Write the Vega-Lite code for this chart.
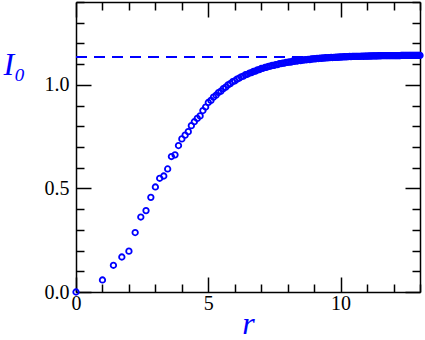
{
 "$schema": "https://vega.github.io/schema/vega-lite/v6.json",
 "width": 344, "height": 290,
 "autosize": {"type": "none"},
 "padding": {"left": 76, "top": 2, "right": 5, "bottom": 48},
 "background": "white",
 "config": {
  "view": {"stroke": null},
  "axis": {"domainColor": "black", "domainWidth": 1.5, "tickColor": "black", "tickWidth": 1.5, "labelFont": "Liberation Serif", "labelFontSize": 20, "labelColor": "black", "titleFont": "Liberation Serif", "titleFontStyle": "italic", "titleFontWeight": "normal", "titleColor": "#0000ff", "titleFontSize": 32, "grid": false, "labelOverlap": false, "labelFlush": false}
 },
 "datasets": {
  "limit": [{"I0_inf": 1.135}],
  "profile": [
{"r":0,"I0":0},{"r":1,"I0":0.058},{"r":1.414,"I0":0.129},{"r":1.732,"I0":0.169},{"r":2,"I0":0.197},{"r":2.236,"I0":0.287},{"r":2.449,"I0":0.362},{"r":2.646,"I0":0.393},{"r":2.828,"I0":0.457},{"r":3,"I0":0.507},
{"r":3.162,"I0":0.549},{"r":3.317,"I0":0.56},{"r":3.464,"I0":0.594},{"r":3.606,"I0":0.654},{"r":3.742,"I0":0.662},{"r":3.873,"I0":0.707},{"r":4,"I0":0.739},{"r":4.123,"I0":0.757},{"r":4.243,"I0":0.774},{"r":4.359,"I0":0.803},
{"r":4.472,"I0":0.822},{"r":4.583,"I0":0.838},{"r":4.69,"I0":0.85},{"r":4.796,"I0":0.876},{"r":4.899,"I0":0.893},{"r":5,"I0":0.915},{"r":5.099,"I0":0.925},{"r":5.196,"I0":0.941},{"r":5.292,"I0":0.95},{"r":5.385,"I0":0.963},
{"r":5.477,"I0":0.97},{"r":5.568,"I0":0.982},{"r":5.657,"I0":0.989},{"r":5.745,"I0":1.0},{"r":5.831,"I0":1.006},{"r":5.916,"I0":1.015},{"r":6,"I0":1.019},{"r":6.083,"I0":1.028},{"r":6.164,"I0":1.032},{"r":6.245,"I0":1.039},
{"r":6.325,"I0":1.042},{"r":6.403,"I0":1.049},{"r":6.481,"I0":1.051},{"r":6.557,"I0":1.057},{"r":6.633,"I0":1.059},{"r":6.708,"I0":1.065},{"r":6.782,"I0":1.066},{"r":6.856,"I0":1.072},{"r":6.928,"I0":1.073},{"r":7,"I0":1.079},
{"r":7.071,"I0":1.08},{"r":7.141,"I0":1.084},{"r":7.211,"I0":1.085},{"r":7.28,"I0":1.089},{"r":7.348,"I0":1.09},{"r":7.416,"I0":1.094},{"r":7.483,"I0":1.094},{"r":7.55,"I0":1.098},{"r":7.616,"I0":1.098},{"r":7.681,"I0":1.102},
{"r":7.746,"I0":1.102},{"r":7.81,"I0":1.105},{"r":7.874,"I0":1.105},{"r":7.937,"I0":1.108},{"r":8,"I0":1.108},{"r":8.062,"I0":1.111},{"r":8.124,"I0":1.11},{"r":8.185,"I0":1.114},{"r":8.246,"I0":1.113},{"r":8.307,"I0":1.116},
{"r":8.367,"I0":1.115},{"r":8.426,"I0":1.118},{"r":8.485,"I0":1.117},{"r":8.544,"I0":1.12},{"r":8.602,"I0":1.119},{"r":8.66,"I0":1.122},{"r":8.718,"I0":1.121},{"r":8.775,"I0":1.123},{"r":8.832,"I0":1.122},{"r":8.888,"I0":1.125},
{"r":8.944,"I0":1.124},{"r":9,"I0":1.127},{"r":9.055,"I0":1.125},{"r":9.11,"I0":1.128},{"r":9.165,"I0":1.127},{"r":9.22,"I0":1.129},{"r":9.274,"I0":1.128},{"r":9.327,"I0":1.13},{"r":9.381,"I0":1.129},{"r":9.434,"I0":1.131},
{"r":9.487,"I0":1.13},{"r":9.539,"I0":1.132},{"r":9.592,"I0":1.131},{"r":9.644,"I0":1.133},{"r":9.695,"I0":1.132},{"r":9.747,"I0":1.133},{"r":9.798,"I0":1.133},{"r":9.849,"I0":1.134},{"r":9.899,"I0":1.133},{"r":9.95,"I0":1.135},
{"r":10,"I0":1.134},{"r":10.05,"I0":1.135},{"r":10.1,"I0":1.135},{"r":10.149,"I0":1.136},{"r":10.198,"I0":1.135},{"r":10.247,"I0":1.136},{"r":10.296,"I0":1.136},{"r":10.344,"I0":1.137},{"r":10.392,"I0":1.136},{"r":10.44,"I0":1.137},
{"r":10.488,"I0":1.137},{"r":10.536,"I0":1.138},{"r":10.583,"I0":1.137},{"r":10.63,"I0":1.138},{"r":10.677,"I0":1.138},{"r":10.724,"I0":1.138},{"r":10.77,"I0":1.138},{"r":10.817,"I0":1.139},{"r":10.863,"I0":1.138},{"r":10.909,"I0":1.139},
{"r":10.954,"I0":1.139},{"r":11,"I0":1.139},{"r":11.045,"I0":1.139},{"r":11.091,"I0":1.14},{"r":11.136,"I0":1.139},{"r":11.18,"I0":1.14},{"r":11.225,"I0":1.14},{"r":11.269,"I0":1.14},{"r":11.314,"I0":1.14},{"r":11.358,"I0":1.14},
{"r":11.402,"I0":1.14},{"r":11.446,"I0":1.141},{"r":11.489,"I0":1.14},{"r":11.533,"I0":1.141},{"r":11.576,"I0":1.141},{"r":11.619,"I0":1.141},{"r":11.662,"I0":1.141},{"r":11.705,"I0":1.141},{"r":11.747,"I0":1.141},{"r":11.79,"I0":1.141},
{"r":11.832,"I0":1.141},{"r":11.874,"I0":1.141},{"r":11.916,"I0":1.141},{"r":11.958,"I0":1.141},{"r":12,"I0":1.141},{"r":12.042,"I0":1.141},{"r":12.083,"I0":1.141},{"r":12.124,"I0":1.141},{"r":12.166,"I0":1.141},{"r":12.207,"I0":1.141},
{"r":12.247,"I0":1.141},{"r":12.288,"I0":1.142},{"r":12.329,"I0":1.142},{"r":12.369,"I0":1.142},{"r":12.41,"I0":1.142},{"r":12.45,"I0":1.142},{"r":12.49,"I0":1.142},{"r":12.53,"I0":1.142},{"r":12.57,"I0":1.142},{"r":12.61,"I0":1.142},
{"r":12.649,"I0":1.142},{"r":12.689,"I0":1.142},{"r":12.728,"I0":1.142},{"r":12.767,"I0":1.142},{"r":12.806,"I0":1.142},{"r":12.845,"I0":1.142},{"r":12.884,"I0":1.142},{"r":12.923,"I0":1.142},{"r":12.961,"I0":1.142},{"r":13,"I0":1.142}
  ]
 },
 "layer": [
  {
   "data": {"name": "limit"},
   "mark": {"type": "rule", "color": "#0000ff", "strokeWidth": 2, "strokeDash": [11, 7]},
   "encoding": {
    "y": {"field": "I0_inf", "type": "quantitative", "scale": {"domain": [0, 1.4], "nice": false, "zero": false},
      "axis": {"orient": "right", "title": null, "labels": false, "values": [0,0.1,0.2,0.3,0.4,0.5,0.6,0.7,0.8,0.9,1.0,1.1,1.2,1.3,1.4],
        "tickSize": {"condition": {"test": "abs(datum.value*2 - round(datum.value*2)) < 0.001", "value": -15}, "value": -8}}},
    "x": {"datum": 0, "type": "quantitative", "scale": {"domain": [0, 13], "nice": false, "zero": false},
      "axis": {"orient": "top", "title": null, "labels": false, "values": [0,1,2,3,4,5,6,7,8,9,10,11,12,13],
        "tickSize": {"condition": {"test": "datum.value % 5 === 0", "value": -15}, "value": -8}}},
    "x2": {"datum": 13}
   }
  },
  {
   "data": {"name": "profile"},
   "mark": {"type": "point", "shape": "circle", "filled": false, "color": "#0000ff", "size": 30, "strokeWidth": 1.8, "opacity": 1},
   "encoding": {
    "x": {"field": "r", "type": "quantitative", "scale": {"domain": [0, 13], "nice": false, "zero": false},
      "axis": {"orient": "bottom", "title": "r", "values": [0,1,2,3,4,5,6,7,8,9,10,11,12,13],
        "labelExpr": "datum.value % 5 === 0 ? format(datum.value, 'd') : ''",
        "tickSize": {"condition": {"test": "datum.value % 5 === 0", "value": -15}, "value": -8},
        "labelPadding": 16, "titleY": 41, "titleBaseline": "alphabetic"}},
    "y": {"field": "I0", "type": "quantitative", "scale": {"domain": [0, 1.4], "nice": false, "zero": false},
      "axis": {"orient": "left", "title": "I₀", "values": [0,0.1,0.2,0.3,0.4,0.5,0.6,0.7,0.8,0.9,1.0,1.1,1.2,1.3,1.4],
        "labelExpr": "abs(datum.value*2 - round(datum.value*2)) < 0.001 ? format(datum.value, '.1f') : ''",
        "tickSize": {"condition": {"test": "abs(datum.value*2 - round(datum.value*2)) < 0.001", "value": -15}, "value": -8},
        "labelPadding": 22, "titleAngle": 0, "titleAlign": "left", "titleBaseline": "alphabetic", "titleX": -73, "titleY": 72}}
   }
  }
 ],
 "resolve": {"axis": {"x": "independent", "y": "independent"}}
}
